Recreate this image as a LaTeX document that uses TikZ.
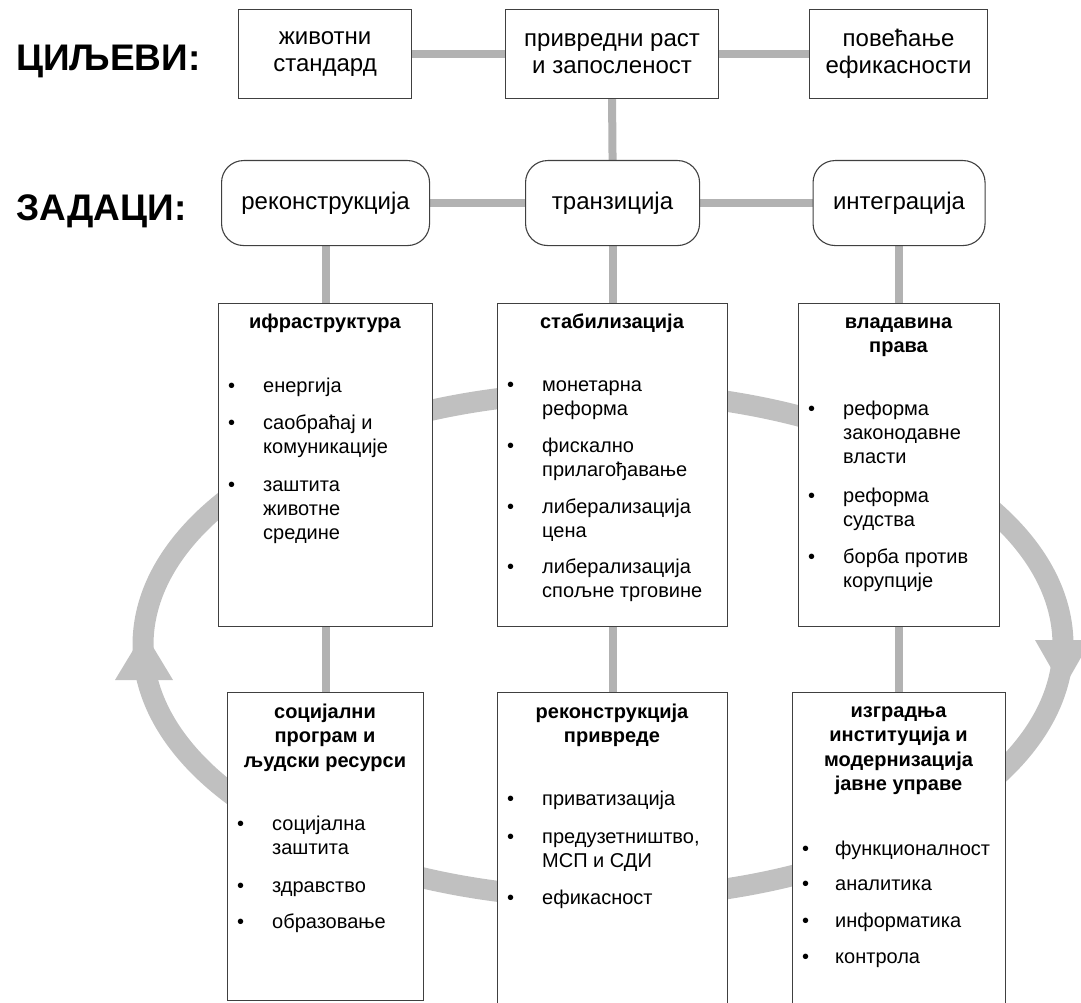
\documentclass[tikz,border=0pt]{standalone}
\usepackage{fontspec}
\setmainfont{Liberation Sans}
\usetikzlibrary{backgrounds}
\definecolor{ringc}{RGB}{192,192,192}
\definecolor{connc}{RGB}{178,178,178}
\definecolor{boxc}{RGB}{64,64,64}
\begin{document}
\begin{tikzpicture}[x=1pt,y=-1pt,
  conn/.style={draw=connc, line width=8pt},
  ringline/.style={draw=ringc, line width=21pt},
  sqbox/.style={draw=boxc, line width=1.1pt, fill=white, rectangle, anchor=north west, inner sep=0pt},
  rbox/.style={sqbox, rounded corners=22pt},
  bigtxt/.style={font=\fontsize{24}{27}\selectfont, align=center},
  lbl/.style={font=\fontsize{37}{40}\selectfont\bfseries, inner sep=0pt, anchor=base west},
  ttl/.style={font=\fontsize{20}{24.5}\selectfont\bfseries, inner sep=0pt, anchor=base},
  itm/.style={font=\fontsize{20}{24}\selectfont, inner sep=0pt, anchor=base west}]
\clip (0,0) rectangle (1081,1003);
% labels
\node[lbl] (lc) at (16,71) {ЦИЉЕВИ:};
\node[lbl] (lz) at (16,220) {ЗАДАЦИ:};
% goals
\node[sqbox, bigtxt, minimum width=173pt, minimum height=89pt] (g1) at (238,9) {животни\\стандард};
\node[sqbox, bigtxt, minimum width=213pt, minimum height=89pt] (g2) at (505,9) {привредни раст\\и запосленост};
\node[sqbox, bigtxt, minimum width=178pt, minimum height=89pt] (g3) at (809,9) {повећање\\ефикасности};
% tasks
\node[rbox, bigtxt, minimum width=208pt, minimum height=85pt] (t1) at (221,160) {реконструкција};
\node[rbox, bigtxt, minimum width=174pt, minimum height=85pt] (t2) at (525,160) {транзиција};
\node[rbox, bigtxt, minimum width=172pt, minimum height=85pt] (t3) at (812.5,160) {интеграција};
% middle boxes
\node[sqbox, minimum width=214pt, minimum height=323pt] (m1) at (218,303) {};
\node[sqbox, minimum width=230pt, minimum height=323pt] (m2) at (497,303) {};
\node[sqbox, minimum width=201pt, minimum height=323pt] (m3) at (798,303) {};
% bottom boxes
\node[sqbox, minimum width=196pt, minimum height=308pt] (b1) at (227,692) {};
\node[sqbox, minimum width=230pt, minimum height=330pt] (b2) at (497,692) {};
\node[sqbox, minimum width=213pt, minimum height=330pt] (b3) at (792,692) {};
% texts m1
\node[ttl] (m1t) at (325,328) {ифраструктура};
\node[itm] (m1a) at (228,392) {\makebox[35pt][l]{•}\parbox[t]{170pt}{\raggedright енергија}};
\node[itm] (m1b) at (228,429) {\makebox[35pt][l]{•}\parbox[t]{170pt}{\raggedright саобраћај и\\комуникације}};
\node[itm] (m1c) at (228,491) {\makebox[35pt][l]{•}\parbox[t]{170pt}{\raggedright заштита\\животне\\средине}};
% texts m2
\node[ttl] (m2t) at (612,328) {стабилизација};
\node[itm] (m2a) at (507,391) {\makebox[35pt][l]{•}\parbox[t]{180pt}{\raggedright монетарна\\реформа}};
\node[itm] (m2b) at (507,452) {\makebox[35pt][l]{•}\parbox[t]{180pt}{\raggedright фискално\\прилагођавање}};
\node[itm] (m2c) at (507,513) {\makebox[35pt][l]{•}\parbox[t]{180pt}{\raggedright либерализација\\цена}};
\node[itm] (m2d) at (507,573) {\makebox[35pt][l]{•}\parbox[t]{180pt}{\raggedright либерализација\\спољне трговине}};
% texts m3
\node[ttl] (m3t) at (898.5,328) {\parbox[t]{190pt}{\centering владавина\\права}};
\node[itm] (m3a) at (808,415) {\makebox[35pt][l]{•}\parbox[t]{150pt}{\raggedright реформа\\законодавне\\власти}};
\node[itm] (m3b) at (808,502) {\makebox[35pt][l]{•}\parbox[t]{150pt}{\raggedright реформа\\судства}};
\node[itm] (m3c) at (808,563) {\makebox[35pt][l]{•}\parbox[t]{150pt}{\raggedright борба против\\корупције}};
% texts b1
\node[ttl] (b1t) at (325,718) {\parbox[t]{190pt}{\centering социјални\\програм и\\људски ресурси}};
\node[itm] (b1a) at (237,830) {\makebox[35pt][l]{•}\parbox[t]{150pt}{\raggedright социјална\\заштита}};
\node[itm] (b1b) at (237,892) {\makebox[35pt][l]{•}\parbox[t]{150pt}{\raggedright здравство}};
\node[itm] (b1c) at (237,928) {\makebox[35pt][l]{•}\parbox[t]{150pt}{\raggedright образовање}};
% texts b2
\node[ttl] (b2t) at (612,718) {\parbox[t]{220pt}{\centering реконструкција\\привреде}};
\node[itm] (b2a) at (507,805) {\makebox[35pt][l]{•}\parbox[t]{180pt}{\raggedright приватизација}};
\node[itm] (b2b) at (507,843) {\makebox[35pt][l]{•}\parbox[t]{180pt}{\raggedright предузетништво,\\МСП и СДИ}};
\node[itm] (b2c) at (507,904) {\makebox[35pt][l]{•}\parbox[t]{180pt}{\raggedright ефикасност}};
% texts b3
\node[ttl] (b3t) at (898.5,717) {\parbox[t]{205pt}{\centering изградња\\институција и\\модернизација\\јавне управе}};
\node[itm] (b3a) at (802,855) {\makebox[33pt][l]{•}\parbox[t]{170pt}{\raggedright функционалност}};
\node[itm] (b3b) at (802,890) {\makebox[33pt][l]{•}\parbox[t]{170pt}{\raggedright аналитика}};
\node[itm] (b3c) at (802,927) {\makebox[33pt][l]{•}\parbox[t]{170pt}{\raggedright информатика}};
\node[itm] (b3d) at (802,963) {\makebox[33pt][l]{•}\parbox[t]{170pt}{\raggedright контрола}};
\begin{scope}[on background layer]
  \draw[ringline] (603,645) ellipse [x radius=460, y radius=253];
  \fill[ringc] (1035,640) -- (1091,640) -- (1063,689) -- cycle;
  \fill[ringc] (115,680) -- (173,680) -- (144,632) -- cycle;
  \draw[conn] (g1) -- (g2);
  \draw[conn] (g2) -- (g3);
  \draw[conn] (g2.south) -- (t2.north);
  \draw[conn] (t1) -- (t2);
  \draw[conn] (t2) -- (t3);
  \draw[conn] (t1.south) -- (m1.north);
  \draw[conn] (t2.south) -- (m2.north);
  \draw[conn] (t3.south) -- (m3.north);
  \draw[conn] (m1.south) -- (b1.north);
  \draw[conn] (m2.south) -- (b2.north);
  \draw[conn] (m3.south) -- (b3.north);
\end{scope}
\end{tikzpicture}
\end{document}
